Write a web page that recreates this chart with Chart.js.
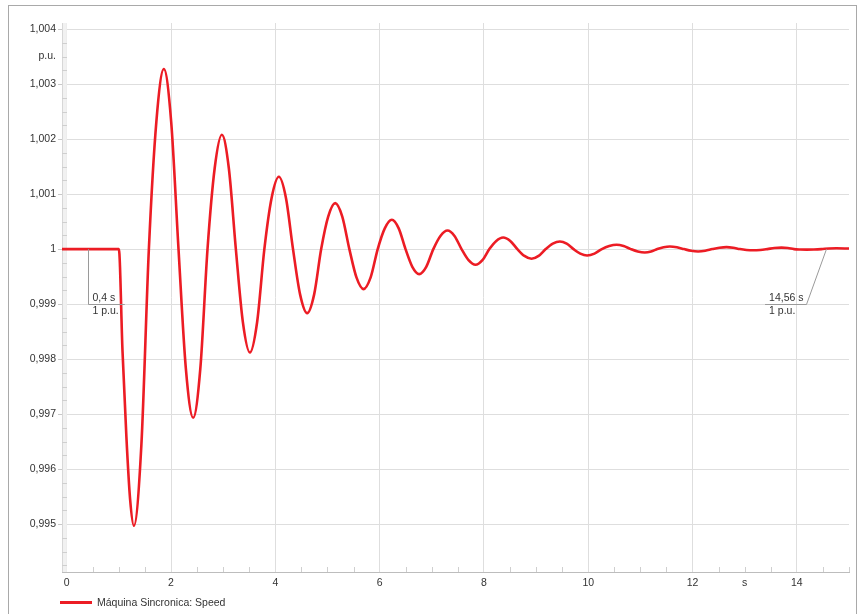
<!DOCTYPE html>
<html><head><meta charset="utf-8">
<script src="https://cdn.jsdelivr.net/npm/chart.js@4/dist/chart.umd.min.js"></script>
<style>html,body{margin:0;padding:0;background:#fff;}canvas{display:block;}</style>
</head><body>
<canvas id="c" width="859" height="614"></canvas>
<script>
// ---- data ----
const seriesName = 'Máquina Sincronica: Speed';
const times = [-0.09, 1.0, 1.07, 1.144, 1.216, 1.288, 1.432, 1.5755, 1.719, 1.863, 2.0035, 2.144, 2.2845, 2.425, 2.5625, 2.70, 2.8375, 2.975, 3.109, 3.2435, 3.378, 3.512, 3.651, 3.79, 3.929, 4.068, 4.204, 4.3395, 4.475, 4.611, 4.745, 4.8795, 5.014, 5.148, 5.284, 5.42, 5.556, 5.692, 5.828, 5.9635, 6.099, 6.235,
  6.366, 6.4965, 6.627, 6.758, 6.894, 7.03, 7.166, 7.302, 7.436, 7.5705, 7.705, 7.839, 7.9715, 8.104, 8.2365, 8.369, 8.505, 8.641, 8.777, 8.913, 9.049, 9.1845, 9.320, 9.456, 9.587, 9.7175, 9.848, 9.979, 10.12, 10.261, 10.402, 10.543, 10.6785, 10.814, 10.9495, 11.085, 11.205, 11.325, 11.445, 11.565, 11.7, 11.836, 11.9715, 12.107, 12.2435, 12.38, 12.516, 12.652, 12.7795, 12.907, 13.0345, 13.162, 13.298, 13.434, 13.57, 13.706, 13.826, 13.9455, 14.065, 14.185, 14.3275, 14.47, 14.615, 14.76, 15.0];
const speed = [1, 1, 0.99815, 0.9966, 0.99545, 0.99497, 0.99644, 1.0, 1.002314, 1.003273, 1.002314, 1.0, 0.997832, 0.996933, 0.997832, 1.0, 1.001469, 1.002078, 1.001469, 1.0, 0.998671, 0.99812, 0.998671, 1.0, 1.00093, 1.001315, 1.00093, 1.0, 0.999177, 0.998836, 0.999177, 1.0, 1.000591, 1.000836, 1.000591, 1.0, 0.999486, 0.999273, 0.999486, 1.0, 1.000377, 1.000533,
  1.000377, 1.0, 0.999678, 0.999545, 0.999678, 1.0, 1.000239, 1.000338, 1.000239, 1.0, 0.999799, 0.999715, 0.999799, 1.0, 1.000149, 1.000211, 1.000149, 1.0, 0.999876, 0.999824, 0.999876, 1.0, 1.000098, 1.000138, 1.000098, 1.0, 0.999918, 0.999884, 0.999918, 1.0, 1.000055, 1.000078, 1.000055, 1.0, 0.999956, 0.999938, 0.999956, 1.0, 1.000033, 1.000047, 1.000033, 1.0, 0.999969, 0.999956, 0.999969, 1.0, 1.000025, 1.000036, 1.000025, 1.0, 0.999984, 0.999978, 0.999984, 1.0, 1.000019, 1.000027, 1.000019, 1.0, 0.999993, 0.99999, 0.999993, 1.0, 1.000011, 1.000015, 1.00001];
const xTickValues = [0, 2, 4, 6, 8, 10, 12, 14];
const yTickValues = [0.995, 0.996, 0.997, 0.998, 0.999, 1, 1.001, 1.002, 1.003, 1.004];
const xUnit = 's';
const yUnit = 'p.u.';
const markerTimes = [0.4, 14.56];
const markerValues = [1, 1];
const markerTimeLabels = ['0,4 s', '14,56 s'];
const markerValueLabels = ['1 p.u.', '1 p.u.'];

// ---- styling ----
const RED = '#ec1c24';
const FONT = '"Liberation Sans", Arial, sans-serif';
const FS = 10.5;
const TXT = '#333';
const GRID = '#dedede';
const AXIS = '#bdbdbd';

function fmt(v) {
  return (Math.round(v * 1000) / 1000).toString().replace('.', ',');
}

const points = times.map((t, i) => ({x: t, y: speed[i]}));

const decor = {
  id: 'decor',
  beforeDatasetsDraw(chart) {
    const ctx = chart.ctx, xs = chart.scales.x, ys = chart.scales.y, a = chart.chartArea;
    ctx.save();
    ctx.fillStyle = '#f1f1f1';
    ctx.fillRect(a.left + 0.5, a.top, 4.3, a.bottom - a.top);
    ctx.strokeStyle = '#cfcfcf';
    ctx.lineWidth = 1;
    for (let k = 0; k < 60; k++) {
      const v = 0.994 + k * 0.00025;
      if (v < ys.min || v > ys.max) continue;
      if (Math.abs(v * 1000 - Math.round(v * 1000)) < 1e-6) continue;
      const py = Math.round(ys.getPixelForValue(v)) + 0.5;
      ctx.beginPath(); ctx.moveTo(a.left, py); ctx.lineTo(a.left + 5, py); ctx.stroke();
    }
    for (let k = 0; k <= 30; k++) {
      const t = k * 0.5;
      if (k % 4 === 0) continue;
      const px = Math.round(xs.getPixelForValue(t)) + 0.5;
      ctx.beginPath(); ctx.moveTo(px, a.bottom); ctx.lineTo(px, a.bottom - 5); ctx.stroke();
    }
    ctx.restore();
  },
  afterDraw(chart) {
    const ctx = chart.ctx, xs = chart.scales.x, ys = chart.scales.y, a = chart.chartArea;
    ctx.save();
    ctx.strokeStyle = '#a9a9a9';
    ctx.lineWidth = 1;
    ctx.strokeRect(8.5, 5.5, 848, 700);
    ctx.font = FS + 'px ' + FONT;
    ctx.fillStyle = TXT;
    ctx.textBaseline = 'middle';
    ctx.textAlign = 'right';
    ctx.fillText(yUnit, a.left - 6, ys.getPixelForValue(1.0035));
    ctx.textAlign = 'center';
    ctx.fillText(xUnit, xs.getPixelForValue(13), a.bottom + 11);
    const boxY = Math.round(ys.getPixelForValue(0.999)) + 0.5;
    ctx.strokeStyle = '#9a9a9a';
    ctx.textAlign = 'left';
    markerTimes.forEach((t, i) => {
      const px = xs.getPixelForValue(t), py = ys.getPixelForValue(markerValues[i]);
      const w = Math.max(ctx.measureText(markerTimeLabels[i]).width, ctx.measureText(markerValueLabels[i]).width);
      let left, right, cx, cy;
      if (i === 0) {
        cx = Math.round(px) + 0.5; cy = boxY;
        left = cx; right = cx + w + 10;
      } else {
        cx = Math.round(px - 20) + 0.5; cy = boxY;
        right = cx; left = cx - w - 7;
      }
      ctx.beginPath(); ctx.moveTo(Math.round(px) + 0.5, py); ctx.lineTo(cx, cy); ctx.stroke();
      ctx.beginPath(); ctx.moveTo(left, cy); ctx.lineTo(right, cy); ctx.stroke();
      const tx = left + 4;
      ctx.fillText(markerTimeLabels[i], tx, cy - 6);
      ctx.fillText(markerValueLabels[i], tx, cy + 7);
    });
    ctx.strokeStyle = RED; ctx.lineWidth = 3;
    ctx.beginPath(); ctx.moveTo(60, 602.5); ctx.lineTo(92, 602.5); ctx.stroke();
    ctx.fillStyle = TXT; ctx.textAlign = 'left';
    ctx.fillText(seriesName, 97, 603);
    ctx.restore();
  }
};

new Chart(document.getElementById('c'), {
  type: 'line',
  data: {
    datasets: [{
      label: seriesName,
      data: points,
      borderColor: RED,
      backgroundColor: RED,
      borderWidth: 2.6,
      pointRadius: 0,
      fill: false,
      cubicInterpolationMode: 'monotone'
    }]
  },
  options: {
    responsive: false,
    devicePixelRatio: 1,
    animation: false,
    layout: {padding: {top: 23, right: 10, left: 0, bottom: 0}},
    plugins: {legend: {display: false}, tooltip: {enabled: false}},
    scales: {
      x: {
        type: 'linear',
        min: -0.09, max: 15,
        afterFit: s => { s.height = 42; },
        afterBuildTicks: s => { s.ticks = xTickValues.map(v => ({value: v})); },
        ticks: {
          stepSize: 2, includeBounds: false, padding: 5,
          color: TXT, font: {family: FONT, size: FS},
          maxRotation: 0,
          callback: v => fmt(v)
        },
        grid: {color: GRID, drawTicks: false},
        border: {color: AXIS, width: 1}
      },
      y: {
        type: 'linear',
        min: 0.99413, max: 1.00411,
        afterFit: s => { s.width = 62; },
        afterBuildTicks: s => { s.ticks = yTickValues.map(v => ({value: v})); },
        ticks: {
          stepSize: 0.001, includeBounds: false, padding: 2,
          color: TXT, font: {family: FONT, size: FS},
          callback: v => fmt(v)
        },
        grid: {color: GRID, tickLength: 4, tickColor: '#c8c8c8'},
        border: {color: AXIS, width: 1}
      }
    }
  },
  plugins: [decor]
});
</script>
</body></html>
